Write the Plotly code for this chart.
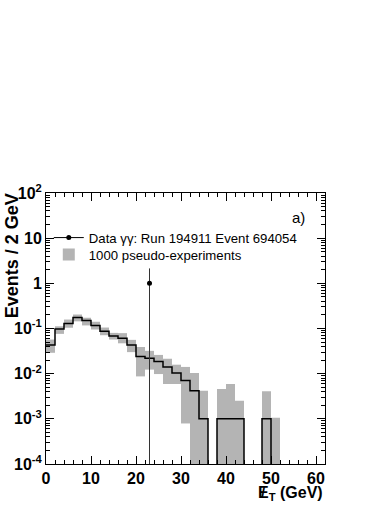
import numpy as np
import plotly.graph_objects as go

# 2 GeV bins from 0 to 62 GeV
bin_edges = list(range(0, 64, 2))

# expected distribution (black step line)
hist_vals = [0.043, 0.098, 0.129, 0.175, 0.150, 0.116, 0.087, 0.068, 0.061, 0.043,
             0.024, 0.022, 0.0185, 0.014, 0.0104, 0.0071, 0.0042, 0.001, 0.0, 0.001,
             0.001, 0.001, 0.0, 0.0, 0.001, 0.0, 0.0, 0.0, 0.0, 0.0, 0.0]

# spread of the 1000 pseudo-experiments (gray band)
band_low = [0.029, 0.076, 0.104, 0.144, 0.117, 0.095, 0.071, 0.057, 0.047, 0.030,
            0.0087, 0.0123, 0.0098, 0.0059, 0.0059, 0.00079, 0.0, 0.0, 0.0, 0.0,
            0.0, 0.0, 0.0, 0.0, 0.0, 0.0, 0.0, 0.0, 0.0, 0.0, 0.0]
band_high = [0.057, 0.112, 0.158, 0.204, 0.173, 0.141, 0.105, 0.080, 0.079, 0.056,
             0.039, 0.032, 0.026, 0.0214, 0.0158, 0.0141, 0.0104, 0.0042, 0.0, 0.0046,
             0.0059, 0.0025, 0.0, 0.0, 0.0041, 0.00106, 0.0, 0.0, 0.0, 0.0, 0.0]

# the data event
data_x = [23.0]
data_y = [1.0]
data_err_up = [1.14]
data_err_down = [0.99999]

ytick_vals = [1e-4, 1e-3, 1e-2, 1e-1, 1, 10, 100]
ytick_text = ["10<sup>-4</sup>", "10<sup>-3</sup>", "10<sup>-2</sup>", "10<sup>-1</sup>",
              "1", "10", "10<sup>2</sup>"]

FLOOR = 1e-6  # stand-in for empty bins on the log axis

edges = np.array(bin_edges, dtype=float)
centers = 0.5 * (edges[:-1] + edges[1:])
lo = np.array(band_low)
hi = np.array(band_high)
lo_plot = np.where(lo > 0, lo, FLOOR)
height = np.where(hi > 0, hi - lo_plot, np.nan)
h = np.array(hist_vals)
h_plot = np.where(h > 0, h, FLOOR)

FONT = "Liberation Sans, Arial, Helvetica"

fig = go.Figure()

fig.add_trace(go.Bar(
    x=centers, y=height, base=lo_plot, width=2.0,
    marker=dict(color="#b4b4b4", line=dict(width=0)),
    name="1000 pseudo-experiments", legend="legend2",
))

fig.add_trace(go.Scatter(
    x=edges, y=np.append(h_plot, h_plot[-1]), mode="lines",
    line=dict(color="black", width=1.5, shape="hv"),
    showlegend=False, hoverinfo="skip",
))

fig.add_trace(go.Scatter(
    x=data_x, y=data_y, mode="lines+markers",
    line=dict(color="black", width=1),
    marker=dict(color="black", size=5),
    error_y=dict(type="data", array=data_err_up, arrayminus=data_err_down,
                 width=0, thickness=1, color="#333333"),
    name="Data γγ: Run 194911 Event 694054", legend="legend",
))

axis_font = dict(family=FONT, size=16, color="black", weight="bold")

fig.update_xaxes(
    range=[0, 62], dtick=10, tick0=0, automargin=False,
    ticks="inside", ticklen=8, tickcolor="black", tickwidth=1,
    minor=dict(ticks="inside", ticklen=4, dtick=2, tickcolor="black"),
    showline=True, linecolor="black", linewidth=1, mirror="ticks",
    showgrid=False, zeroline=False, tickfont=axis_font,
)
fig.update_yaxes(
    type="log", range=[-4, 2], automargin=False,
    tickmode="array", tickvals=ytick_vals, ticktext=ytick_text,
    ticks="inside", ticklen=8, tickcolor="black", tickwidth=1,
    minor=dict(ticks="inside", ticklen=4, dtick="D1", tickcolor="black", showgrid=False),
    showline=True, linecolor="black", linewidth=1, mirror="ticks",
    showgrid=False, zeroline=False, tickfont=axis_font,
)

fig.add_annotation(
    text="Events / 2 GeV", textangle=-90, showarrow=False,
    xref="paper", yref="paper", x=-0.124, y=1.006, xanchor="center", yanchor="top",
    font=dict(family=FONT, size=18, color="black", weight="bold"),
)
fig.add_annotation(
    text="E<sub>T</sub> (GeV)", showarrow=False,
    xref="paper", yref="paper", x=1.0, y=-0.109, xanchor="right", yanchor="middle",
    font=dict(family=FONT, size=16, color="black", weight="bold"),
)
# slash through the E of the missing-ET symbol
fig.add_annotation(
    text="/", showarrow=False,
    xref="paper", yref="paper", x=0.778, y=-0.105, xanchor="center", yanchor="middle",
    font=dict(family=FONT, size=15, color="black", weight="bold"),
)
fig.add_annotation(
    text="a)", showarrow=False,
    xref="paper", yref="paper", x=0.935, y=0.908, xanchor="right", yanchor="middle",
    font=dict(family=FONT, size=15, color="black"),
)

legend_style = dict(xanchor="left", yanchor="middle", bgcolor="rgba(0,0,0,0)",
                    borderwidth=0, font=dict(family=FONT, size=13.2, color="black"))

fig.update_layout(
    width=390, height=505,
    margin=dict(l=46, r=65, t=193, b=41),
    paper_bgcolor="white", plot_bgcolor="white",
    showlegend=True,
    legend=dict(x=0.01, y=(464 - 238) / 271, **legend_style),
    legend2=dict(x=0.01, y=(464 - 255) / 271, **legend_style),
)

# drop the page's default body margin so the figure fills the window
fig.write_html("out.html", config={"displayModeBar": False},
               post_script="document.body.style.margin='0';")
